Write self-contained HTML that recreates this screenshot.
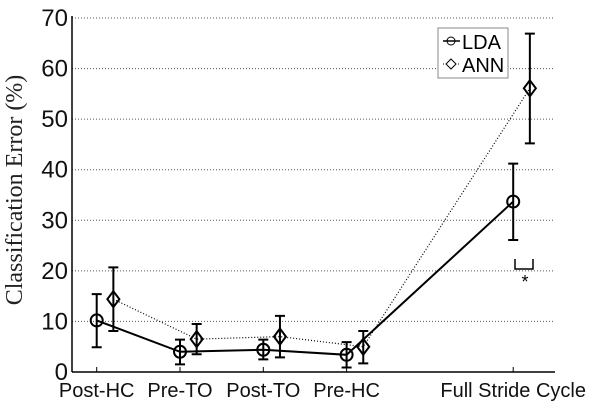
<!DOCTYPE html>
<html><head><meta charset="utf-8"><style>
body{margin:0;background:#fff}
svg{display:block;font-family:"Liberation Sans",sans-serif}
</style></head><body>
<svg id="c" width="602" height="410">
<text x="22" y="190" transform="rotate(-90 22 190)" text-anchor="middle" font-family="Liberation Serif,serif" font-size="24" fill="#222">Classification Error (%)</text>
<g id="grid"></g><g id="axes"></g><g id="series"></g>
<g>
<rect x="438" y="28" width="70" height="50" fill="#fff" stroke="#888" stroke-width="1"/>
<g><line x1="443" y1="41" x2="460" y2="41" stroke="#000" stroke-width="1.5"/><circle cx="451" cy="41" r="4" fill="none" stroke="#000"/><text x="462" y="49" font-size="20">LDA</text></g>
<g><line x1="443" y1="64" x2="460" y2="64" stroke="#000" stroke-dasharray="1 2"/><path d="M451 59 L456 64 L451 69 L446 64Z" fill="#fff" stroke="#000"/><text x="462" y="72" font-size="20">ANN</text></g>
</g>
<g><path d="M515 259 V269 H533 V259" fill="none" stroke="#000" stroke-width="1.5"/><text x="525" y="288" text-anchor="middle" font-size="18">*</text></g>
</svg>
<script>
const categories=["Post-HC","Pre-TO","Post-TO","Pre-HC","Full Stride Cycle"];
const catPos=[1,2,3,4,6];
const ldaMean=[10.2,4.0,4.4,3.4,33.7];
const ldaLow=[4.9,1.5,2.5,0.9,26.1];
const ldaHigh=[15.4,6.4,6.4,5.9,41.2];
const annMean=[14.4,6.5,7.0,5.0,56.1];
const annLow=[8.1,3.5,2.9,1.7,45.2];
const annHigh=[20.7,9.5,11.1,8.1,66.9];
const yTicks=[0,10,20,30,40,50,60,70];
const NS="http://www.w3.org/2000/svg";
const X0=72,X1=555,Y0=372,Y1=18;
const xs=v=>96.7+(v-1)*83.3;
const ys=v=>Y0-(v/70)*(Y0-Y1);
function mk(t,a,p){const e=document.createElementNS(NS,t);for(const k in a)e.setAttribute(k,a[k]);p.appendChild(e);return e;}
const grid=document.getElementById('grid'),axes=document.getElementById('axes'),ser=document.getElementById('series');
yTicks.forEach(t=>{
 if(t>0){const g=mk('line',{x1:X0,x2:X1,y1:ys(t),y2:ys(t),stroke:'#555','stroke-dasharray':'1 2','stroke-width':1},grid);
 
 }
 const l=mk('text',{x:X0-4,y:ys(t)+8,'text-anchor':'end','font-size':24,fill:'#111'},axes);l.textContent=t;
 
 
});
mk('line',{x1:X0,x2:X0,y1:Y1-2,y2:Y0,stroke:'#000','stroke-width':1.5},axes);
mk('line',{x1:X0,x2:X1,y1:Y0,y2:Y0,stroke:'#000','stroke-width':1.5},axes);
categories.forEach((c,i)=>{
 mk('line',{x1:xs(catPos[i]),x2:xs(catPos[i]),y1:Y0,y2:Y0-5,stroke:'#000'},axes);
 const t=mk('text',{x:xs(catPos[i]),y:397,'text-anchor':'middle','font-size':20,fill:'#111'},axes);t.textContent=c;
 
 
});
function series(mean,lo,hi,off,dash,shape,name){
 const pts=mean.map((m,i)=>[xs(catPos[i]+off),ys(m)]);
 const pl=mk('polyline',{points:pts.map(p=>p.join(',')).join(' '),fill:'none',stroke:'#000','stroke-width':dash?1.2:2,'stroke-dasharray':dash?'1 2':'none'},ser);
 
 
 mean.forEach((m,i)=>{
  const x=xs(catPos[i]+off),g=mk('g',{},ser);
  
  
  mk('path',{d:`M${x} ${ys(lo[i])}V${ys(hi[i])}M${x-5} ${ys(lo[i])}H${x+5}M${x-5} ${ys(hi[i])}H${x+5}`,stroke:'#000','stroke-width':2,fill:'none'},g);
  const y=ys(m);
  if(shape==='c')mk('circle',{cx:x,cy:y,r:6,fill:'none',stroke:'#000','stroke-width':2},g);
  else mk('path',{d:`M${x} ${y-8}L${x+6} ${y}L${x} ${y+8}L${x-6} ${y}Z`,fill:'none',stroke:'#000','stroke-width':2},g);
 });
}
series(annMean,annLow,annHigh,0.2,true,'d','ann');
series(ldaMean,ldaLow,ldaHigh,0,false,'c','lda');
</script>
</body></html>
